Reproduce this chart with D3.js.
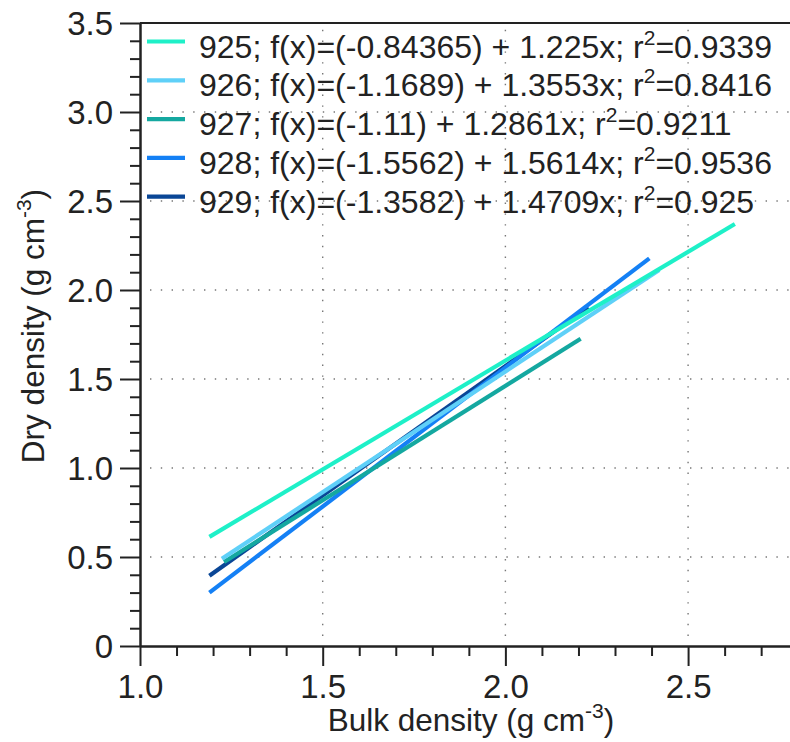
<!DOCTYPE html>
<html>
<head>
    <title>Dry vs bulk density</title>
    <script src="https://d3js.org/d3.v7.min.js"></script>
    <style>
        body { margin: 0; background: #fff; }
        text { font-family: "Liberation Sans", Arial, sans-serif; fill: #222; }
    </style>
</head>
<body style="overflow: hidden;">
    <script>
    // series
    var sites = ["925", "926", "927", "928", "929"];
    var intercepts = ["-0.84365", "-1.1689", "-1.11", "-1.5562", "-1.3582"];
    var slopes = ["1.225", "1.3553", "1.2861", "1.5614", "1.4709"];
    var r2 = ["0.9339", "0.8416", "0.9211", "0.9536", "0.925"];
    // line ends (bulk density, dry density)
    var xStart = [1.19, 1.224, 1.23, 1.19, 1.19];
    var yStart = [0.613, 0.49, 0.472, 0.30, 0.395];
    var xEnd = [2.628, 2.421, 2.206, 2.394, 2.227];
    var yEnd = [2.371, 2.113, 1.726, 2.178, 1.903];
    var colors = ["#1ef0c8", "#5fd0f8", "#14a8a0", "#1480f5", "#0a4696"];

    var xMajor = [1.0, 1.5, 2.0, 2.5];
    var xMinor = [1.1, 1.2, 1.3, 1.4, 1.6, 1.7, 1.8, 1.9, 2.1, 2.2, 2.3, 2.4, 2.6, 2.7];
    var yMajor = [0, 0.5, 1.0, 1.5, 2.0, 2.5, 3.0, 3.5];
    var yMinor = d3.range(0, 35).filter(function(i) { return i % 5 != 0; }).map(function(i) { return i / 10; });

    var width = 790, height = 742;
    var svg = d3.select("body").append("svg")
        .attr("width", width)
        .attr("height", height);

    var x = d3.scaleLinear().domain([1, 2.8]).range([140, 797.7]);
    var y = d3.scaleLinear().domain([0, 3.5]).range([646, 23]);

    // dotted grid
    var grid = svg.append("g")
        .attr("stroke", "#777")
        .attr("stroke-width", 1.4)
        .attr("stroke-dasharray", "1.4,9.4");
    grid.selectAll(".gx")
        .data(xMajor.slice(1))
      .enter().append("line")
        .attr("x1", function(d) { return x(d); })
        .attr("x2", function(d) { return x(d); })
        .attr("y1", y(0) - 10)
        .attr("y2", y(3.5));
    grid.selectAll(".gy")
        .data(yMajor.slice(1, -1))
      .enter().append("line")
        .attr("x1", x(1) + 10)
        .attr("x2", width)
        .attr("y1", function(d) { return y(d); })
        .attr("y2", function(d) { return y(d); });

    // fitted lines
    var idx = d3.range(sites.length).reverse();
    svg.selectAll(".fit")
        .data(idx)
      .enter().append("line")
        .attr("class", "fit")
        .attr("x1", function(i) { return x(xStart[i]); })
        .attr("y1", function(i) { return y(yStart[i]); })
        .attr("x2", function(i) { return x(xEnd[i]); })
        .attr("y2", function(i) { return y(yEnd[i]); })
        .attr("stroke", function(i) { return colors[i]; })
        .attr("stroke-width", 4.2);

    // axes
    function styleAxis(g) {
        g.attr("font-size", 33);
        g.selectAll(".domain").attr("stroke", "#222").attr("stroke-width", 2).attr("fill", "none");
        g.selectAll(".tick line").attr("stroke", "#222").attr("stroke-width", 2);
    }
    svg.append("g")
        .attr("transform", "translate(0," + y(0) + ")")
        .call(d3.axisBottom(x).tickValues(xMinor).tickSize(10).tickSizeOuter(0).tickFormat(""))
        .call(styleAxis);
    var xa = svg.append("g")
        .attr("transform", "translate(0," + y(0) + ")")
        .call(d3.axisBottom(x).tickValues(xMajor).tickSize(20).tickSizeOuter(0).tickFormat(d3.format(".1f")))
        .call(styleAxis);
    xa.selectAll(".tick text")
        .attr("y", 29)
        .attr("font-size", 33)
        .attr("fill", "#222");

    svg.append("g")
        .attr("transform", "translate(" + x(1) + ",0)")
        .call(d3.axisLeft(y).tickValues(yMinor).tickSize(10).tickSizeOuter(0).tickFormat(""))
        .call(styleAxis);
    var ya = svg.append("g")
        .attr("transform", "translate(" + x(1) + ",0)")
        .call(d3.axisLeft(y).tickValues(yMajor).tickSize(20).tickSizeOuter(0)
            .tickFormat(function(d) { return d == 0 ? "0" : d.toFixed(1); }))
        .call(styleAxis);
    ya.selectAll(".tick text")
        .attr("x", -27)
        .attr("dy", "0.36em")
        .attr("font-size", 33)
        .attr("fill", "#222");

    // top frame
    svg.append("line")
        .attr("x1", x(1)).attr("x2", width)
        .attr("y1", y(3.5)).attr("y2", y(3.5))
        .attr("stroke", "#222").attr("stroke-width", 2);

    // axis titles
    var xt = svg.append("text")
        .attr("x", 471).attr("y", 731)
        .attr("text-anchor", "middle")
        .attr("font-size", 31.5);
    xt.append("tspan").text("Bulk density (g cm");
    xt.append("tspan").attr("dy", -13).attr("font-size", 21).text("-3");
    xt.append("tspan").attr("dy", 13).text(")");

    var yt = svg.append("text")
        .attr("transform", "translate(44," + 326 + ") rotate(-90)")
        .attr("text-anchor", "middle")
        .attr("font-size", 31.5);
    yt.append("tspan").text("Dry density (g cm");
    yt.append("tspan").attr("dy", -13).attr("font-size", 21).text("-3");
    yt.append("tspan").attr("dy", 13).text(")");

    // legend
    var leg = svg.selectAll(".leg")
        .data(d3.range(sites.length))
      .enter().append("g")
        .attr("class", "leg")
        .attr("transform", function(i) { return "translate(147," + (57.5 + i * 38.8) + ")"; });
    leg.append("line")
        .attr("x1", 0).attr("x2", 38)
        .attr("y1", -16).attr("y2", -16)
        .attr("stroke", function(i) { return colors[i]; })
        .attr("stroke-width", 4.2);
    var lt = leg.append("text")
        .attr("x", 52)
        .attr("font-size", 32);
    lt.append("tspan").text(function(i) {
        return sites[i] + "; f(x)=(" + intercepts[i] + ") + " + slopes[i] + "x; r";
    });
    lt.append("tspan").attr("dy", -13).attr("font-size", 21).text("2");
    lt.append("tspan").attr("dy", 13).text(function(i) { return "=" + r2[i]; });
    </script>
</body>
</html>
